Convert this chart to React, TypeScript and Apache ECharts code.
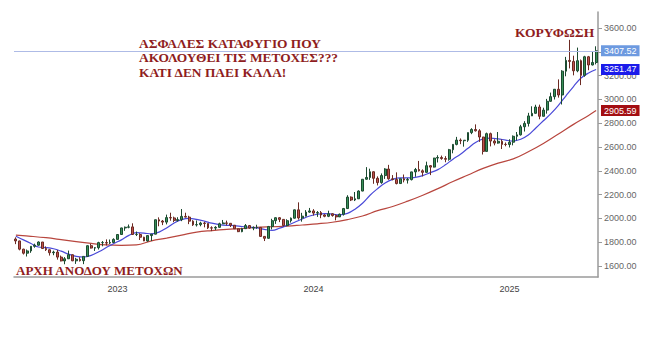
import React, { useEffect, useRef } from "react";
import * as echarts from "echarts";

// Weekly candles, week ending Friday, first week ends 2022-07-01
const START_UTC = Date.UTC(2022, 6, 1);

const opens = [
  1827, 1811, 1742, 1708, 1727, 1766, 1775, 1802, 1747, 1737, 1712, 1717, 1675, 1643, 1661, 1695, 1644, 1657, 1645, 1681, 1771, 1751, 1754, 1797, 1797, 1793, 1798,
  1824, 1865, 1920, 1926, 1929, 1865, 1865, 1842, 1811, 1856, 1868, 1989, 1978, 1969, 2007, 2004, 1983, 1990, 2017, 2011, 1977, 1946, 1948, 1961, 1958, 1921,
  1919, 1925, 1955, 1962, 1959, 1943, 1913, 1889, 1914, 1940, 1919, 1924, 1925, 1849, 1833, 1932, 1981, 2006, 1992, 1940, 1981, 2002, 2072, 2004, 2019, 2053,
  2063, 2045, 2049, 2029, 2018, 2039, 2024, 2013, 2035, 2083, 2179, 2155, 2165, 2230, 2329, 2344, 2392, 2337, 2301, 2360, 2415, 2333, 2327, 2293, 2333, 2322,
  2326, 2391, 2411, 2400, 2387, 2443, 2431, 2507, 2512, 2503, 2497, 2577, 2622, 2658, 2653, 2657, 2721, 2747, 2736, 2684, 2563, 2712, 2650, 2633, 2648, 2622,
  2621, 2640, 2690, 2702, 2770, 2798, 2861, 2883, 2936, 2858, 2910, 2984, 3023, 3085, 3037, 3237, 3327, 3319, 3240, 3325, 3202, 3358, 3289, 3310,
];
const closes = [
  1811, 1742, 1708, 1727, 1766, 1775, 1802, 1747, 1737, 1712, 1717, 1675, 1643, 1661, 1695, 1644, 1657, 1645, 1681, 1771, 1751, 1754, 1797, 1797, 1793, 1798, 1824,
  1865, 1920, 1926, 1929, 1865, 1865, 1842, 1811, 1856, 1868, 1989, 1978, 1969, 2007, 2004, 1983, 1990, 2017, 2011, 1977, 1946, 1948, 1961, 1958, 1921, 1919,
  1925, 1955, 1962, 1959, 1943, 1913, 1889, 1914, 1940, 1919, 1924, 1925, 1849, 1833, 1932, 1981, 2006, 1992, 1940, 1981, 2002, 2072, 2004, 2019, 2053, 2063,
  2045, 2049, 2029, 2018, 2039, 2024, 2013, 2035, 2083, 2179, 2155, 2165, 2230, 2329, 2344, 2392, 2337, 2301, 2360, 2415, 2333, 2327, 2293, 2333, 2322, 2326,
  2391, 2411, 2400, 2387, 2443, 2431, 2507, 2512, 2503, 2497, 2577, 2622, 2658, 2653, 2657, 2721, 2747, 2736, 2684, 2563, 2712, 2650, 2633, 2648, 2622, 2621,
  2640, 2690, 2702, 2770, 2798, 2861, 2883, 2936, 2858, 2910, 2984, 3023, 3085, 3037, 3237, 3327, 3319, 3240, 3325, 3202, 3358, 3289, 3310, 3407.52,
];
const lows = [
  1784, 1732, 1697, 1680, 1711, 1754, 1771, 1745, 1727, 1688, 1691, 1654, 1639, 1615, 1659, 1641, 1618, 1638, 1616, 1676, 1747, 1727, 1739, 1766, 1773, 1785, 1795,
  1822, 1865, 1896, 1917, 1862, 1852, 1819, 1809, 1804, 1810, 1867, 1934, 1944, 1950, 1981, 1969, 1974, 1977, 2008, 1952, 1937, 1932, 1934, 1925, 1911, 1893,
  1902, 1922, 1952, 1942, 1928, 1911, 1885, 1884, 1912, 1914, 1901, 1913, 1846, 1810, 1830, 1908, 1954, 1969, 1932, 1935, 1965, 1999, 1990, 1973, 2017, 2047,
  2024, 2013, 2002, 2010, 2011, 2015, 1984, 2012, 2024, 2079, 2146, 2146, 2163, 2228, 2326, 2324, 2291, 2277, 2291, 2332, 2325, 2320, 2286, 2293, 2303, 2293,
  2319, 2350, 2394, 2353, 2384, 2364, 2428, 2470, 2493, 2472, 2485, 2547, 2614, 2624, 2603, 2643, 2708, 2730, 2643, 2537, 2562, 2605, 2614, 2628, 2583, 2606,
  2596, 2614, 2656, 2696, 2730, 2772, 2860, 2880, 2833, 2857, 2880, 2980, 2999, 3015, 2957, 3194, 3260, 3202, 3228, 3120, 3190, 3245, 3285, 3294,
];
const highs = [
  1841, 1813, 1745, 1739, 1767, 1788, 1807, 1802, 1765, 1740, 1729, 1735, 1688, 1675, 1730, 1697, 1669, 1674, 1681, 1774, 1787, 1759, 1804, 1810, 1824, 1823, 1833,
  1869, 1922, 1932, 1949, 1959, 1890, 1876, 1846, 1858, 1870, 1990, 2009, 1987, 2032, 2048, 2015, 2010, 2079, 2048, 2022, 1985, 1983, 1972, 1971, 1958, 1934,
  1935, 1964, 1987, 1982, 1961, 1944, 1915, 1922, 1953, 1945, 1933, 1947, 1926, 1851, 1937, 1997, 2009, 2010, 1993, 1993, 2008, 2075, 2135, 2047, 2070, 2088,
  2078, 2062, 2062, 2036, 2065, 2043, 2034, 2041, 2088, 2195, 2185, 2222, 2236, 2330, 2431, 2418, 2395, 2353, 2378, 2422, 2450, 2364, 2387, 2336, 2369, 2340,
  2392, 2424, 2483, 2412, 2477, 2448, 2509, 2531, 2528, 2523, 2584, 2625, 2685, 2672, 2657, 2722, 2758, 2790, 2750, 2685, 2721, 2721, 2665, 2726, 2664, 2638,
  2665, 2697, 2726, 2786, 2817, 2887, 2942, 2955, 2956, 2930, 3004, 3057, 3087, 3168, 3245, 3357, 3500, 3367, 3435, 3335, 3366, 3365, 3403, 3446,
];

// Moving averages (50-day every 2 weeks, 200-day every 4 weeks, last point = last week)
const ma50Every2Weeks = [
  1850, 1820, 1790, 1760, 1755, 1745, 1725, 1700, 1682, 1676,
  1690, 1720, 1755, 1790, 1820, 1858, 1880, 1877, 1870, 1885,
  1920, 1962, 1990, 2000, 1992, 1978, 1960, 1948, 1942, 1940,
  1932, 1926, 1920, 1908, 1900, 1918, 1942, 1968, 1995, 2020,
  2035, 2040, 2036, 2030, 2042, 2078, 2128, 2195, 2250, 2298,
  2328, 2340, 2340, 2345, 2360, 2385, 2410, 2450, 2498, 2540,
  2590, 2638, 2668, 2675, 2668, 2658, 2650, 2665, 2700, 2760,
  2820, 2880, 2950, 3030, 3108, 3180, 3222, 3251.47,
];
const ma200Every4Weeks = [
  1860, 1850, 1838, 1822, 1805, 1790, 1778, 1774, 1778, 1812,
  1835, 1860, 1885, 1898, 1908, 1915, 1925, 1930, 1935, 1945,
  1955, 1968, 1990, 2020, 2065, 2100, 2145, 2195, 2250, 2310,
  2365, 2420, 2465, 2500, 2560, 2630, 2710, 2790, 2865, 2905.59,
];

const lastPrice = 3407.52;
const lastMa50 = 3251.47;
const lastMa200 = 2905.59;

const annotationMain = ["ΑΣΦΑΛΕΣ ΚΑΤΑΦΥΓΙΟ ΠΟΥ", "ΑΚΟΛΟΥΘΕΙ ΤΙΣ ΜΕΤΟΧΕΣ???", "ΚΑΤΙ ΔΕΝ ΠΑΕΙ ΚΑΛΑ!"];
const annotationPeak = "ΚΟΡΥΦΩΣΗ";
const annotationStart = "ΑΡΧΗ ΑΝΟΔΟΥ ΜΕΤΟΧΩΝ";

const sans = "'Liberation Sans', Arial, sans-serif";

function endLabel(value: number, bg: string) {
  return {
    show: true,
    position: "end",
    distance: 3,
    formatter: value.toFixed(2),
    backgroundColor: bg,
    color: "#fff",
    fontSize: 9,
    fontFamily: sans,
    padding: [1, 3, 1, 3],
  };
}

export default function App() {
  const ref = useRef<HTMLDivElement>(null);

  useEffect(() => {
    document.body.style.margin = "0";
    const chart = echarts.init(ref.current!, null, { renderer: "svg" });
    const n = opens.length;
    const weeks = Array.from({ length: n }, (_, i) =>
      new Date(START_UTC + i * 7 * 86400000).toISOString().slice(0, 10)
    );
    const md = (i: number) => {
      const d = weeks[i] || "";
      return { m: +d.slice(5, 7), day: +d.slice(8, 10) };
    };
    const candles = opens.map((o, i) => [o, closes[i], lows[i], highs[i]]);
    const ma50: (number | null)[] = weeks.map(() => null);
    ma50Every2Weeks.forEach((v, k) => { ma50[Math.min(k * 2, n - 1)] = v; });
    const ma200: (number | null)[] = weeks.map(() => null);
    ma200Every4Weeks.forEach((v, k) => { ma200[Math.min(k * 4, n - 1)] = v; });

    const textColor = "#8f1d21";

    chart.setOption({
      animation: false,
      backgroundColor: "#ffffff",
      grid: { left: 14, right: 67, top: 12, bottom: 85 },
      xAxis: {
        type: "category",
        data: weeks,
        boundaryGap: true,
        axisLine: { lineStyle: { color: "#9a9a9a", width: 1.5 } },
        axisTick: {
          length: 4,
          lineStyle: { color: "#9a9a9a" },
          interval: (i: number) => {
            const { m, day } = md(i);
            return (m === 1 || m === 5 || m === 9) && day <= 7;
          },
        },
        axisLabel: {
          interval: (i: number) => {
            const { m, day } = md(i);
            return m === 1 && day <= 7;
          },
          formatter: (v: string) => v.slice(0, 4),
          fontSize: 9,
          color: "#444",
          fontFamily: sans,
          margin: 7,
        },
        splitLine: { show: false },
      },
      yAxis: {
        type: "value",
        position: "right",
        min: 1508,
        max: 3734,
        splitNumber: 11,
        splitLine: { show: false },
        axisLine: { show: true, lineStyle: { color: "#9a9a9a", width: 1.5 } },
        axisTick: { show: true, length: 4, lineStyle: { color: "#9a9a9a" } },
        axisLabel: {
          formatter: (v: number) => v.toFixed(2),
          fontSize: 9,
          color: "#666",
          fontFamily: sans,
          margin: 6,
          showMinLabel: false,
          showMaxLabel: false,
        },
      },
      series: [
        {
          type: "line",
          name: "MA200",
          data: ma200,
          connectNulls: true,
          smooth: 0.4,
          showSymbol: false,
          z: 2,
          lineStyle: { color: "#b8463e", width: 1.2 },
          markLine: {
            silent: true,
            symbol: ["none", "none"],
            lineStyle: { color: "rgba(0,0,0,0)", width: 1, type: "solid" },
            data: [{ yAxis: lastMa200 }],
            label: endLabel(lastMa200, "#a30e12"),
            z: 10,
          },
        },
        {
          type: "line",
          name: "MA50",
          data: ma50,
          connectNulls: true,
          smooth: 0.4,
          showSymbol: false,
          z: 2,
          lineStyle: { color: "#4a4ad8", width: 1.2 },
          markLine: {
            silent: true,
            symbol: ["none", "none"],
            lineStyle: { color: "rgba(0,0,0,0)", width: 1, type: "solid" },
            data: [{ yAxis: lastMa50 }],
            label: endLabel(lastMa50, "#1b1bea"),
            z: 10,
          },
        },
        {
          type: "candlestick",
          name: "Price",
          data: candles,
          barWidth: "62%",
          z: 3,
          itemStyle: {
            color: "#379058",
            color0: "#c0504d",
            borderColor: "#1c4a30",
            borderColor0: "#6b2a22",
            borderWidth: 1,
          },
          markLine: {
            silent: true,
            symbol: ["none", "none"],
            lineStyle: { color: "#aebbe6", width: 1, type: "solid" },
            data: [{ yAxis: lastPrice }],
            label: endLabel(lastPrice, "#6d9ae0"),
          },
        },
      ],
      graphic: [
        ...annotationMain.map((t, i) => ({
          type: "text",
          x: 139,
          y: 43 + i * 14.5,
          style: { text: t, font: "bold 13.4px 'Liberation Serif', serif", fill: textColor, textVerticalAlign: "middle" },
        })),
        {
          type: "text",
          x: 515,
          y: 32,
          style: { text: annotationPeak, font: "bold 13.5px 'Liberation Serif', serif", fill: textColor, textVerticalAlign: "middle" },
        },
        {
          type: "text",
          x: 16,
          y: 270,
          style: { text: annotationStart, font: "bold 13px 'Liberation Serif', serif", fill: textColor, textVerticalAlign: "middle" },
        },
      ],
    });
    return () => chart.dispose();
  }, []);

  return <div ref={ref} style={{ width: 665, height: 362 }} />;
}
